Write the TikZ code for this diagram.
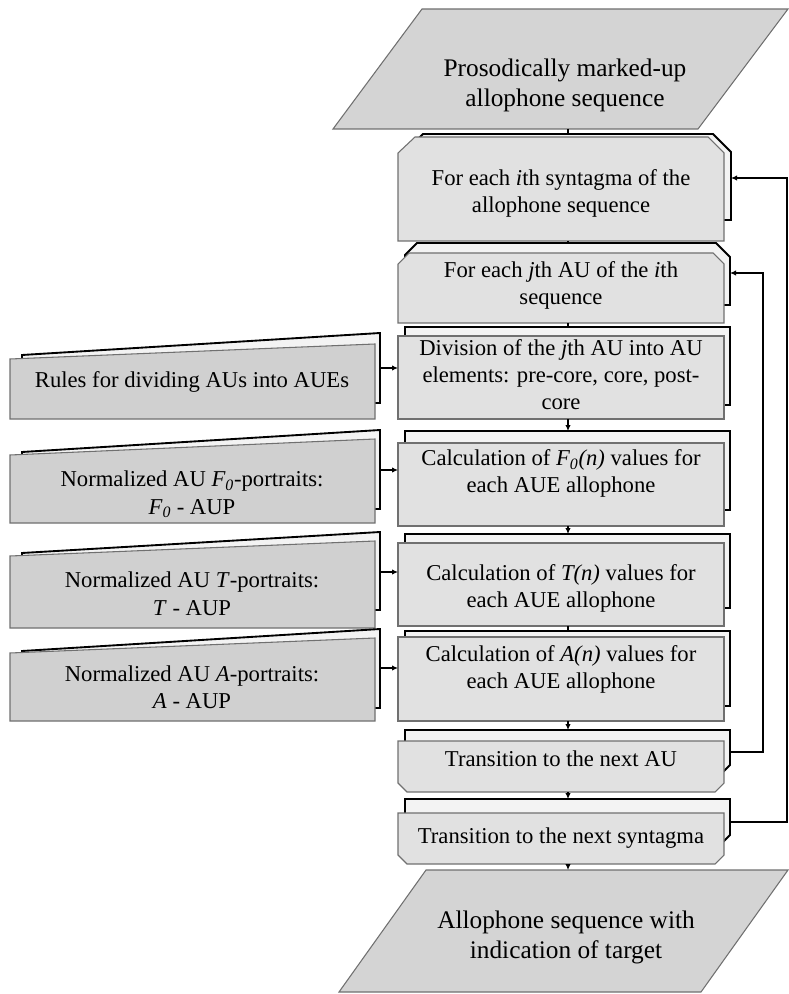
\documentclass[tikz,border=0pt]{standalone}
\usepackage{fontspec}
\setmainfont{Liberation Serif}
\usetikzlibrary{arrows.meta}

\definecolor{frontfill}{HTML}{E1E1E1}
\definecolor{backfill}{HTML}{F3F3F3}
\definecolor{iofill}{HTML}{D4D4D4}
\definecolor{datafill}{HTML}{D0D0D0}
\definecolor{edgegray}{HTML}{707070}

\tikzset{
  frontbox/.style={fill=frontfill, draw=edgegray, line width=0.8pt, line join=miter},
  backbox/.style={fill=backfill, draw=black, line width=1.4pt, line join=miter},
  iobox/.style={fill=iofill, draw=edgegray, line width=0.8pt},
  datafront/.style={fill=datafill, draw=edgegray, line width=0.8pt},
  databack/.style={fill=backfill, draw=black, line width=1.4pt},
  flow/.style={draw=black, line width=0.8pt, -{Latex[length=4.5pt,width=4pt]}},
  tick/.style={draw=black, line width=0.8pt},
  steptext/.style={inner sep=0pt, align=center, font=\fontsize{17}{20.25}\selectfont},
  datatext/.style={inner sep=0pt, align=center, font=\fontsize{17}{20.5}\selectfont},
  iotext/.style={inner sep=0pt, align=center, font=\fontsize{19}{23}\selectfont}
}

\begin{document}
\begin{tikzpicture}[x=0.75pt, y=-0.75pt]
\useasboundingbox (0,0) rectangle (788,994);

% ---------- input / output data ----------
\path[iobox] (422,9) -- (788,9) -- (698,129) -- (333,129) -- cycle;
\node[iotext] (src) at (565,85.5) {Prosodically marked-up\\allophone sequence};

\path[iobox] (426,870) -- (788,870) -- (701,992) -- (339,992) -- cycle;
\node[iotext] (dst) at (566,937.5) {Allophone sequence with\\indication of target};

% ---------- outer loop: syntagmas ----------
\path[backbox] (405,152) -- (423,134) -- (713,134) -- (731,152) -- (731,220) -- (405,220) -- cycle;
\path[frontbox] (398,153) -- (415,137) -- (708,137) -- (724,153) -- (724,241) -- (398,241) -- cycle;
\node[steptext] (syn) at (561,193) {For each \textit{i}th syntagma of the\\allophone sequence};

% ---------- inner loop: AUs ----------
\path[backbox] (405,255) -- (417,243) -- (716,243) -- (730,257) -- (730,305) -- (405,305) -- cycle;
\path[frontbox] (398,264) -- (409,253) -- (713,253) -- (724,264) -- (724,323) -- (398,323) -- cycle;
\node[steptext] (au) at (561,285.7) {For each \textit{j}th AU of the \textit{i}th\\sequence};

% ---------- processing steps ----------
\path[backbox] (405,327) rectangle (730,405);
\path[frontbox] (398,336) rectangle (724,419);
\node[steptext] (div) at (561,374.6) {Division of the \textit{j}th AU into AU\\elements: pre-core, core, post-\\core};

\path[backbox] (405,431) rectangle (730,510);
\path[frontbox] (398,443) rectangle (724,526);
\node[steptext] (cf) at (561,473.6) {Calculation of \textit{F\textsubscript{0}(n)} values for\\each AUE allophone};

\path[backbox] (405,534) rectangle (730,608);
\path[frontbox] (398,543) rectangle (724,626);
\node[steptext] (ct) at (561,588) {Calculation of \textit{T(n)} values for\\each AUE allophone};

\path[backbox] (405,631) rectangle (730,706);
\path[frontbox] (398,637) rectangle (724,721);
\node[steptext] (ca) at (561,669.7) {Calculation of \textit{A(n)} values for\\each AUE allophone};

% ---------- loop ends ----------
\path[backbox] (405,730) -- (730,730) -- (730,765) -- (720,775) -- (415,775) -- (405,765) -- cycle;
\path[frontbox] (398,741) -- (724,741) -- (724,783) -- (715,792) -- (407,792) -- (398,783) -- cycle;
\node[steptext] (nau) at (561,759) {Transition to the next AU};

\path[backbox] (405,799) -- (730,799) -- (730,835) -- (720,845) -- (415,845) -- (405,835) -- cycle;
\path[frontbox] (398,813) -- (724,813) -- (724,855) -- (715,864) -- (407,864) -- (398,855) -- cycle;
\node[steptext] (nsyn) at (561,837.7) {Transition to the next syntagma};

% ---------- stored data on the left ----------
\path[databack] (22,403) -- (22,355) -- (380,333) -- (380,403) -- cycle;
\path[datafront] (10,359) -- (375,344) -- (375,419) -- (10,419) -- cycle;
\node[datatext] (rules) at (192,381.7) {Rules for dividing AUs into AUEs};

\path[databack] (22,509) -- (22,452) -- (380,430) -- (380,509) -- cycle;
\path[datafront] (10,455) -- (375,439) -- (375,523) -- (10,523) -- cycle;
\node[datatext] (pf) at (192,494.5) {Normalized AU \textit{F\textsubscript{0}}-portraits:\\\textit{F\textsubscript{0}} - AUP};

\path[databack] (22,610) -- (22,553) -- (380,532) -- (380,610) -- cycle;
\path[datafront] (10,556) -- (375,541) -- (375,628) -- (10,628) -- cycle;
\node[datatext] (pt) at (192,593.7) {Normalized AU \textit{T}-portraits:\\\textit{T} - AUP};

\path[databack] (22,708) -- (22,651) -- (380,629) -- (380,708) -- cycle;
\path[datafront] (10,653) -- (375,638) -- (375,721) -- (10,721) -- cycle;
\node[datatext] (pa) at (192,687) {Normalized AU \textit{A}-portraits:\\\textit{A} - AUP};

% ---------- connector end points ----------
\coordinate (srcB) at (568,129);   \coordinate (synT) at (568,134);
\coordinate (synB) at (568,241);   \coordinate (auT)  at (568,243);
\coordinate (auB)  at (568,323);   \coordinate (divT) at (568,327);
\coordinate (divB) at (568,419);   \coordinate (cfT)  at (568,431);
\coordinate (cfB)  at (568,526);   \coordinate (ctT)  at (568,534);
\coordinate (ctB)  at (568,626);   \coordinate (caT)  at (568,631);
\coordinate (caB)  at (568,721);   \coordinate (nauT) at (568,730);
\coordinate (nauB) at (568,792);   \coordinate (nsynT) at (568,799);
\coordinate (nsynB) at (568,864);  \coordinate (dstT) at (568,870);

\coordinate (rulesR) at (380,368); \coordinate (divL) at (398,368);
\coordinate (pfR) at (380,470);    \coordinate (cfL)  at (398,470);
\coordinate (ptR) at (380,572);    \coordinate (ctL)  at (398,572);
\coordinate (paR) at (380,668);    \coordinate (caL)  at (398,668);

\coordinate (synR)  at (731,178);  \coordinate (auR)   at (730,273);
\coordinate (nauR)  at (730,752);  \coordinate (nsynR) at (730,822);

% ---------- main flow ----------
\draw[tick] (srcB) -- (synT);
\draw[tick] (synB) -- (auT);
\draw[tick] (auB) -- (divT);
\draw[flow] (divB) -- (cfT);
\draw[flow] (cfB) -- (ctT);
\draw[tick] (ctB) -- (caT);
\draw[flow] (caB) -- (nauT);
\draw[flow] (nauB) -- (nsynT);
\draw[flow] (nsynB) -- (dstT);

% ---------- data inputs ----------
\draw[flow] (rulesR) -- (divL);
\draw[flow] (pfR) -- (cfL);
\draw[flow] (ptR) -- (ctL);
\draw[flow] (paR) -- (caL);

% ---------- loop returns ----------
\draw[flow] (nauR) -- ++(33,0) |- (auR);
\draw[flow] (nsynR) -- ++(57,0) |- (synR);
\end{tikzpicture}
\end{document}
